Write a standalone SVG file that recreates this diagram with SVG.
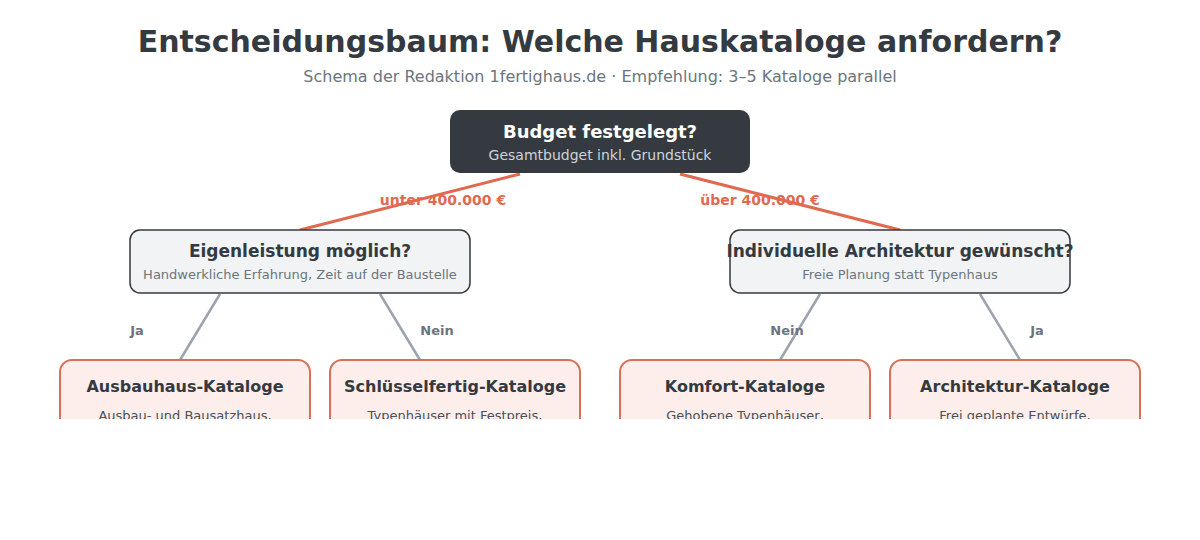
<svg xmlns="http://www.w3.org/2000/svg" width="1200" height="540" viewBox="0 0 1200 540">
<style>
text{font-family:"DejaVu Sans","Liberation Sans",sans-serif;text-anchor:middle}
.title{font-size:30px;font-weight:bold;fill:#343a40}
.sub{font-size:16px;fill:#6c757d}
.rt{font-size:18px;font-weight:bold;fill:#ffffff}
.rs{font-size:14px;fill:#ced4da}
.qt{font-size:17px;font-weight:bold;fill:#343a40}
.qs{font-size:13px;fill:#6c757d}
.lt{font-size:16px;font-weight:bold;fill:#343a40}
.ls{font-size:13px;fill:#495057}
.q{fill:#f1f3f5;stroke:#343a40;stroke-width:1.5}
.leaf{fill:#fdeeeb;stroke:#d9705a;stroke-width:2}
.red{stroke:#e0694f;stroke-width:3;fill:none}
.gray{stroke:#9ca3af;stroke-width:2.5;fill:none}
.rl{font-size:14px;font-weight:bold;fill:#e0694f}
.gl{font-size:13px;font-weight:bold;fill:#6c757d}
</style>
<defs>
<clipPath id="cut"><rect x="0" y="0" width="1200" height="419"/></clipPath>
</defs>
<rect width="1200" height="540" fill="#ffffff"/>
<text class="title" x="600" y="52">Entscheidungsbaum: Welche Hauskataloge anfordern?</text>
<text class="sub" x="600" y="82">Schema der Redaktion 1fertighaus.de · Empfehlung: 3–5 Kataloge parallel</text>
<g id="connectors">
<line class="red" x1="520" y1="174" x2="300" y2="230"/>
<line class="red" x1="680" y1="174" x2="900" y2="230"/>
<line class="gray" x1="220" y1="294" x2="180" y2="360"/>
<line class="gray" x1="380" y1="294" x2="420" y2="360"/>
<line class="gray" x1="820" y1="294" x2="780" y2="360"/>
<line class="gray" x1="980" y1="294" x2="1020" y2="360"/>
<text class="rl" x="443" y="205">unter 400.000 €</text>
<text class="rl" x="760" y="205">über 400.000 €</text>
<text class="gl" x="137" y="335">Ja</text>
<text class="gl" x="437" y="335">Nein</text>
<text class="gl" x="787" y="335">Nein</text>
<text class="gl" x="1037" y="335">Ja</text>
</g>
<g id="root">
<rect x="450" y="110" width="300" height="63" rx="10" fill="#343a40"/>
<text class="rt" x="600" y="138">Budget festgelegt?</text>
<text class="rs" x="600" y="160">Gesamtbudget inkl. Grundstück</text>
</g>
<g id="q-eigenleistung">
<rect class="q" x="130" y="230" width="340" height="63" rx="10"/>
<text class="qt" x="300" y="257">Eigenleistung möglich?</text>
<text class="qs" x="300" y="279">Handwerkliche Erfahrung, Zeit auf der Baustelle</text>
</g>
<g id="q-architektur">
<rect class="q" x="730" y="230" width="340" height="63" rx="10"/>
<text class="qt" x="900" y="257">Individuelle Architektur gewünscht?</text>
<text class="qs" x="900" y="279">Freie Planung statt Typenhaus</text>
</g>
<g clip-path="url(#cut)">
<g id="leaf-ausbau">
<rect class="leaf" x="60" y="360" width="250" height="110" rx="12"/>
<text class="lt" x="185" y="392">Ausbauhaus-Kataloge</text>
<text class="ls" x="185" y="420">Ausbau- und Bausatzhaus,</text>
</g>
<g id="leaf-schluessel">
<rect class="leaf" x="330" y="360" width="250" height="110" rx="12"/>
<text class="lt" x="455" y="392">Schlüsselfertig-Kataloge</text>
<text class="ls" x="455" y="420">Typenhäuser mit Festpreis,</text>
</g>
<g id="leaf-komfort">
<rect class="leaf" x="620" y="360" width="250" height="110" rx="12"/>
<text class="lt" x="745" y="392">Komfort-Kataloge</text>
<text class="ls" x="745" y="420">Gehobene Typenhäuser,</text>
</g>
<g id="leaf-architektur">
<rect class="leaf" x="890" y="360" width="250" height="110" rx="12"/>
<text class="lt" x="1015" y="392">Architektur-Kataloge</text>
<text class="ls" x="1015" y="420">Frei geplante Entwürfe,</text>
</g>
</g>
</svg>
